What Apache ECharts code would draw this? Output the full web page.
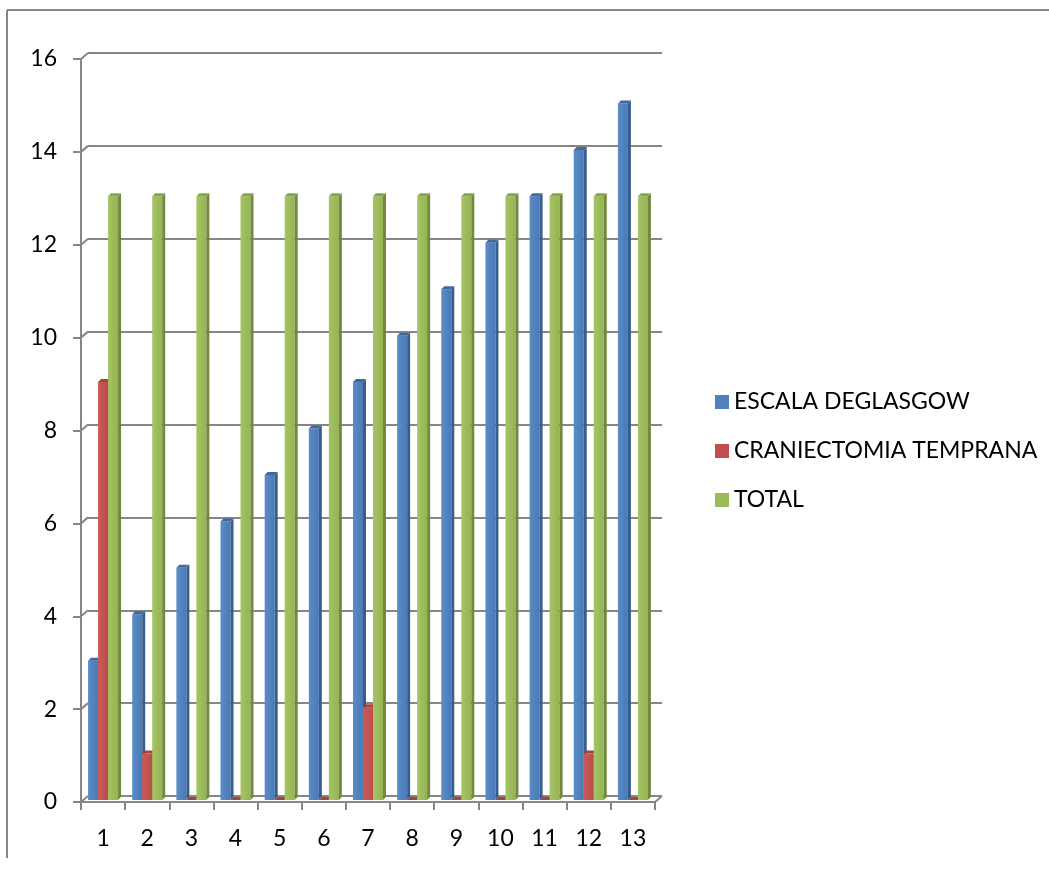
<!DOCTYPE html>
<html>
<head>
<meta charset="utf-8">
<script src="https://cdn.jsdelivr.net/npm/echarts@6/dist/echarts.min.js"></script>
<style>
  html, body { margin: 0; padding: 0; background: #fff; }
  #chart { width: 1049px; height: 877px; }
</style>
</head>
<body>
<div id="chart"></div>
<script>
// Categories and series values
const categories = ['1', '2', '3', '4', '5', '6', '7', '8', '9', '10', '11', '12', '13'];
const escalaGlasgow = [3, 4, 5, 6, 7, 8, 9, 10, 11, 12, 13, 14, 15];
const craniectomia = [9, 1, 0, 0, 0, 0, 2, 0, 0, 0, 0, 1, 0];
const total = [13, 13, 13, 13, 13, 13, 13, 13, 13, 13, 13, 13, 13];
const yTicks = [0, 2, 4, 6, 8, 10, 12, 14, 16];

const seriesNames = ['ESCALA DEGLASGOW', 'CRANIECTOMIA TEMPRANA', 'TOTAL'];
const seriesValues = [escalaGlasgow, craniectomia, total];

// Face colours for the pseudo-3D columns: front (light/dark), side, top
const palette = [
  { front: ['#5A8CC8', '#4A7AB6'], side: '#385D8A', top: '#40699E', legend: '#4F81BD' },
  { front: ['#CC5B58', '#BB4C49'], side: '#8C3836', top: '#A5433F', legend: '#C0504D' },
  { front: ['#A5C465', '#94B452'], side: '#71893F', top: '#87A548', legend: '#9BBB59' }
];

const GRAY = '#868686';
const FONT = 'Lato';
const DEPTH = 3;          // depth of each column (px)
const LIFT = 2;           // columns stand slightly behind the front floor edge
const WALL_DX = 7, WALL_DY = -6; // offset of the back wall from the front axes
const SLOT_START = -0.34; // first column's left edge, in band widths from the category centre
const SLOT = 0.2265;      // column width, in band widths

function barSeries(k) {
  const col = palette[k];
  return {
    name: seriesNames[k],
    type: 'custom',
    xAxisIndex: 0,
    yAxisIndex: 0,
    z: 10 + k,
    itemStyle: { color: col.legend },
    data: seriesValues[k].map((v, i) => [i, v]),
    renderItem: function (params, api) {
      const idx = api.value(0);
      const top = api.coord([idx, api.value(1)]);
      const base = api.coord([idx, 0]);
      const band = api.size([1, 0])[0];
      const x0 = top[0] + band * (SLOT_START + k * SLOT);
      const w = band * SLOT;
      const yT = top[1] - LIFT;
      const yB = base[1] - LIFT;
      const d = DEPTH;
      const children = [];
      if (yB - yT > 0.5) {
        children.push({
          type: 'rect',
          shape: { x: x0, y: yT, width: w, height: yB - yT },
          style: {
            fill: new echarts.graphic.LinearGradient(0, 0, 1, 0, [
              { offset: 0, color: col.front[0] },
              { offset: 1, color: col.front[1] }
            ])
          }
        });
        children.push({
          type: 'polygon',
          shape: { points: [[x0 + w, yT], [x0 + w + d, yT - d], [x0 + w + d, yB - d], [x0 + w, yB]] },
          style: { fill: col.side }
        });
      }
      children.push({
        type: 'polygon',
        shape: { points: [[x0, yT], [x0 + w, yT], [x0 + w + d, yT - d], [x0 + d, yT - d]] },
        style: { fill: col.top }
      });
      return { type: 'group', children: children };
    }
  };
}

const option = {
  backgroundColor: '#ffffff',
  animation: false,
  textStyle: { fontFamily: FONT },
  graphic: [
    { type: 'line', shape: { x1: 7, y1: 10, x2: 1049, y2: 10 }, style: { stroke: GRAY, lineWidth: 2 } },
    { type: 'line', shape: { x1: 7, y1: 10, x2: 7, y2: 858 }, style: { stroke: GRAY, lineWidth: 2 } }
  ],
  legend: {
    orient: 'vertical',
    left: 710,
    top: 385,
    itemWidth: 14,
    itemHeight: 14,
    itemGap: 25,
    icon: 'rect',
    data: seriesNames,
    textStyle: { fontFamily: FONT, fontSize: 23, color: '#000', lineHeight: 24 }
  },
  grid: [
    { left: 81, top: 59, right: 394, bottom: 75, containLabel: false },
    { left: 81 + WALL_DX, top: 59 + WALL_DY, right: 394 - WALL_DX, bottom: 75 - WALL_DY, containLabel: false }
  ],
  xAxis: [
    {
      type: 'category', gridIndex: 0, data: categories,
      axisLine: { show: true, lineStyle: { color: GRAY, width: 2 } },
      axisTick: { show: true, length: 8, lineStyle: { color: GRAY, width: 2 } },
      axisLabel: { margin: 25, fontFamily: FONT, fontSize: 23, color: '#000' },
      splitLine: { show: false }
    },
    { type: 'value', gridIndex: 0, min: 0, max: categories.length, show: false },
    { type: 'category', gridIndex: 1, data: categories, show: false }
  ],
  yAxis: [
    {
      type: 'value', gridIndex: 0, min: 0, max: 16, interval: 2,
      axisLine: { show: true, lineStyle: { color: GRAY, width: 2 } },
      axisTick: { show: true, length: 8, lineStyle: { color: GRAY, width: 2 } },
      axisLabel: { margin: 24, fontFamily: FONT, fontSize: 23, color: '#000' },
      splitLine: { show: false }
    },
    {
      type: 'value', gridIndex: 1, min: 0, max: 16, interval: 2,
      axisLine: { show: false }, axisTick: { show: false }, axisLabel: { show: false },
      splitLine: { show: true, lineStyle: { color: GRAY, width: 2 } }
    }
  ],
  series: [
    // connectors between the front axis ticks and the back wall gridlines
    {
      type: 'custom',
      xAxisIndex: 1,
      yAxisIndex: 0,
      z: 1,
      silent: true,
      data: yTicks.map(v => [0, v]),
      renderItem: function (params, api) {
        const p = api.coord([api.value(0), api.value(1)]);
        return {
          type: 'line',
          shape: { x1: p[0], y1: p[1], x2: p[0] + WALL_DX, y2: p[1] + WALL_DY },
          style: { stroke: GRAY, lineWidth: 2 }
        };
      }
    },
    // right edge of the floor
    {
      type: 'custom',
      xAxisIndex: 1,
      yAxisIndex: 0,
      z: 1,
      silent: true,
      data: [[categories.length, 0]],
      renderItem: function (params, api) {
        const p = api.coord([api.value(0), api.value(1)]);
        return {
          type: 'line',
          shape: { x1: p[0], y1: p[1], x2: p[0] + WALL_DX, y2: p[1] + WALL_DY },
          style: { stroke: GRAY, lineWidth: 2 }
        };
      }
    },
    barSeries(0),
    barSeries(1),
    barSeries(2)
  ]
};

const chart = echarts.init(document.getElementById('chart'), null, { renderer: 'canvas' });
chart.setOption(option);
</script>
</body>
</html>
